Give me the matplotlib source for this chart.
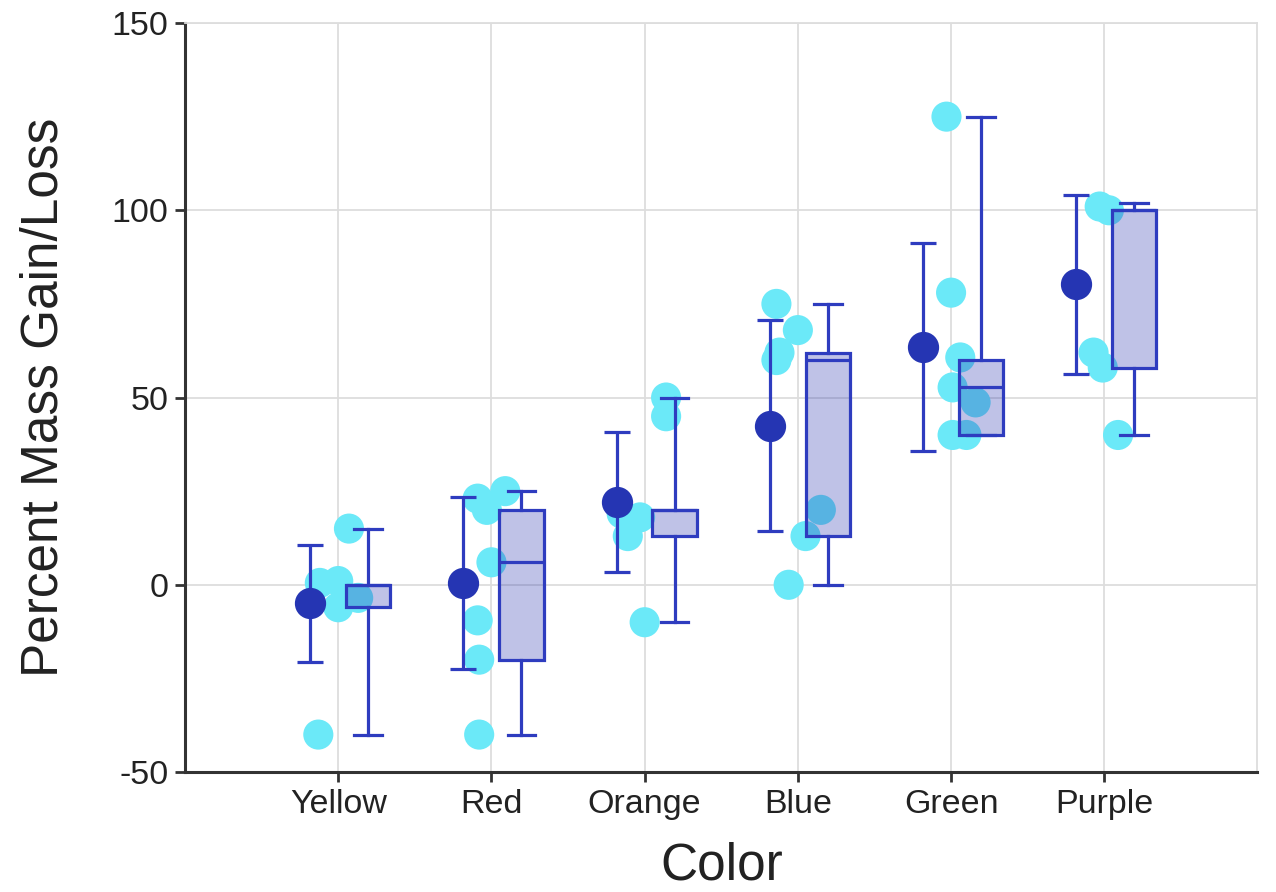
import matplotlib
matplotlib.use("Agg")
import matplotlib.pyplot as plt
import numpy as np

plt.rcParams['font.family'] = ['Liberation Sans', 'DejaVu Sans']
plt.rcParams['axes.unicode_minus'] = False

colors = ["Yellow", "Red", "Orange", "Blue", "Green", "Purple"]

# individual measurements (value, horizontal jitter in category units)
pts_vals = [
    [15, 0.5, 1, -6, -3.5, -40],
    [23, 20, 25, 6, -9.5, -20, -40],
    [50, 45, 19, 18, 13, -10],
    [75, 68, 62, 60, 20, 13, 0],
    [125, 78, 60.7, 52.7, 48.7, 40, 40],
    [101, 100, 62, 58, 40],
]
pts_jit = [
    [0.07, -0.12, 0.0, 0.0, 0.13, -0.13],
    [-0.09, -0.03, 0.09, 0.0, -0.09, -0.08, -0.08],
    [0.14, 0.14, -0.15, -0.03, -0.11, 0.0],
    [-0.14, 0.0, -0.12, -0.14, 0.15, 0.05, -0.06],
    [-0.03, 0.0, 0.06, 0.01, 0.16, 0.01, 0.1],
    [-0.03, 0.03, -0.07, -0.01, 0.09],
]

# mean and error bar half width
means = [-5, 0.5, 22, 42.5, 63.5, 80.2]
errs = [15.5, 22.9, 18.7, 28.1, 27.7, 24]

# box summaries
q1 = [-6, -20, 13, 13, 40, 58]
med = [0, 6, 20, 60, 52.7, 100]
q3 = [0, 20, 20, 62, 60, 100]
whislo = [-40, -40, -10, 0, 40, 40]
whishi = [15, 25, 50, 75, 125, 102]

cyan = "#6be9f8"
dark = "#2535b3"
line = "#2e3cbf"

fig = plt.figure(figsize=(12.76, 8.92), dpi=100)
ax = fig.add_axes([0.145, 0.1345, 0.8405, 0.8397])

x = np.arange(len(colors))

for i in range(len(colors)):
    ax.scatter(x[i] + np.array(pts_jit[i]), pts_vals[i], s=470, color=cyan,
               edgecolors="none", zorder=2)

stats = []
for i in range(len(colors)):
    stats.append(dict(q1=q1[i], med=med[i], q3=q3[i], whislo=whislo[i],
                      whishi=whishi[i], fliers=[]))
ax.bxp(stats, positions=x + 0.195, widths=0.29, capwidths=0.18,
       showfliers=False, patch_artist=True,
       boxprops=dict(facecolor=(0.17, 0.21, 0.69, 0.3), edgecolor=line, linewidth=2.3),
       medianprops=dict(color=line, linewidth=2.3),
       whiskerprops=dict(color=line, linewidth=2.3),
       capprops=dict(color=line, linewidth=2.3), zorder=3)

ax.errorbar(x - 0.183, means, yerr=errs, fmt="none", ecolor=line,
            elinewidth=2.3, capsize=9.5, capthick=2.3, zorder=4)
ax.plot(x - 0.183, means, "o", color=dark, markersize=21.5, zorder=5)

ax.set_xlim(-1, 6)
ax.set_ylim(-50, 150)
ax.set_yticks([-50, 0, 50, 100, 150])
ax.set_xticks(x)
ax.set_xticklabels(colors)
ax.tick_params(labelsize=24.5, length=7, width=2, color="#333333",
               labelcolor="#222222", pad=5)
ax.grid(True, color="#dddddd", linewidth=1.3, zorder=0)
ax.set_axisbelow(True)

for s in ["left", "bottom"]:
    ax.spines[s].set_color("#333333")
    ax.spines[s].set_linewidth(2.2)
for s in ["top", "right"]:
    ax.spines[s].set_color("#dddddd")
    ax.spines[s].set_linewidth(1.3)

ax.set_xlabel("Color", fontsize=37, labelpad=16, color="#222222")
ax.set_ylabel("Percent Mass Gain/Loss", fontsize=37, labelpad=31, color="#222222")

fig.savefig("out.png", dpi=100)
